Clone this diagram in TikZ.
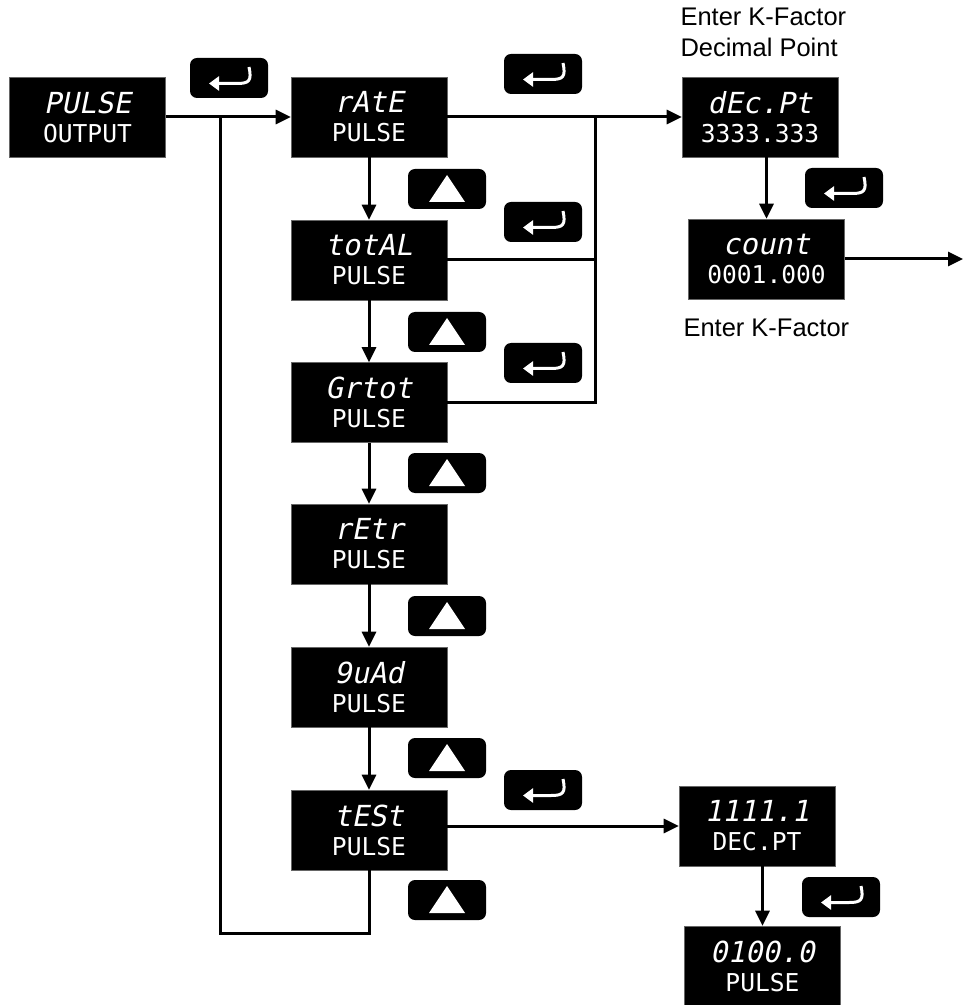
\documentclass[tikz,border=0pt]{standalone}
\usepackage{fontspec}
\setmainfont{Liberation Sans}
\newfontfamily\segfont{DejaVu Sans Mono}
\newfontfamily\segslant[FakeSlant=0.2]{DejaVu Sans Mono}
\usetikzlibrary{arrows.meta}

% two display lines of a meter screen
\newcommand\disp[2]{{\segslant\fontsize{16.5}{16.5}\selectfont #1}\\{\segfont #2}}

\begin{document}
\begin{tikzpicture}[
  x=0.2mm, y=-0.2mm,
  >={Triangle[length=3mm,width=2.8mm]},
  line width=0.6mm,
  screen/.style={draw=black!60, line width=0.3pt, fill=black, text=white,
    minimum width=31.2mm, minimum height=16mm, align=center, inner sep=0pt,
    font=\fontsize{14}{16.5}\selectfont},
  key/.style={fill=black, rounded corners=1.4mm, minimum width=15.6mm,
    minimum height=8mm, inner sep=0pt},
  upkey/.style={key, path picture={
    \fill[white, sharp corners] ([yshift=2.8mm]path picture bounding box.center)
      -- ++(-3.6mm,-5.4mm) -- ++(7.2mm,0) -- cycle;}},
  enterkey/.style={key, path picture={
    \begin{scope}[shift={(path picture bounding box.center)}, x=1mm, y=1mm]
      \draw[white, sharp corners, line width=0.6mm,
        -{Triangle[length=2mm,width=2.8mm]}]
        (4,2.2) .. controls (4.6,-0.6) and (4,-1.1) .. (1.6,-1.1) -- (-4,-1.1);
    \end{scope}}},
  lbl/.style={inner sep=0pt, anchor=base west, font=\fontsize{14.5}{17}\selectfont}
]
  \useasboundingbox (0,0) rectangle (964,1005);

  % screens
  \node[screen] (out) at (87.5,117) {\disp{PULSE}{OUTPUT}};
  \node[screen] (rate) at (369,117) {\disp{rAtE}{PULSE}};
  \node[screen] (total) at (369,260) {\disp{totAL}{PULSE}};
  \node[screen] (grtot) at (369,402.5) {\disp{Grtot}{PULSE}};
  \node[screen] (retr) at (369,544) {\disp{rEtr}{PULSE}};
  \node[screen] (quad) at (369,687) {\disp{9uAd}{PULSE}};
  \node[screen] (test) at (369,830) {\disp{tESt}{PULSE}};
  \node[screen] (decpt) at (760,117) {\disp{dEc.Pt}{3333.333}};
  \node[screen] (count) at (766.5,259) {\disp{count}{0001.000}};
  \node[screen] (tdec) at (757,826) {\disp{1111.1}{DEC.PT}};
  \node[screen] (tpls) at (762.5,966) {\disp{0100.0}{PULSE}};

  % keys
  \foreach \y [count=\i] in {189,332,473,616,758,900}
    \node[upkey] (up\i) at (447,\y) {};
  \node[enterkey] (ent0) at (229,78) {};
  \node[enterkey] (ent1) at (543,74) {};
  \node[enterkey] (ent2) at (543,222) {};
  \node[enterkey] (ent3) at (543,363) {};
  \node[enterkey] (ent4) at (543,790) {};
  \node[enterkey] (ent5) at (844,188) {};
  \node[enterkey] (ent6) at (841,897) {};

  % notes
  \node[lbl] (kfa) at (679,26) {Enter K-Factor};
  \node[lbl] (kfb) at (679,57) {Decimal Point};
  \node[lbl] (kfc) at (682,337) {Enter K-Factor};

  \coordinate (jl) at (220,117);
  \coordinate (jr) at (595,117);
  \coordinate (lb) at (220,933);
  \coordinate (kout) at (963,259);

  \path[->]
    (out) edge (rate)
    (rate) edge (decpt)
    (rate) edge (total)
    (total) edge (grtot)
    (grtot) edge (retr)
    (retr) edge (quad)
    (quad) edge (test)
    (count) edge (kout);
  \draw[->] (count.north |- decpt.south) -- (count.north);
  \draw[->] (test.east |- tdec.west) -- (tdec.west);
  \draw[->] (tpls.north |- tdec.south) -- (tpls.north);
  \draw (total.east) -| (jr);
  \draw (grtot.east) -| (jr);
  \draw (test.south) |- (lb) -- (jl);
\end{tikzpicture}
\end{document}
